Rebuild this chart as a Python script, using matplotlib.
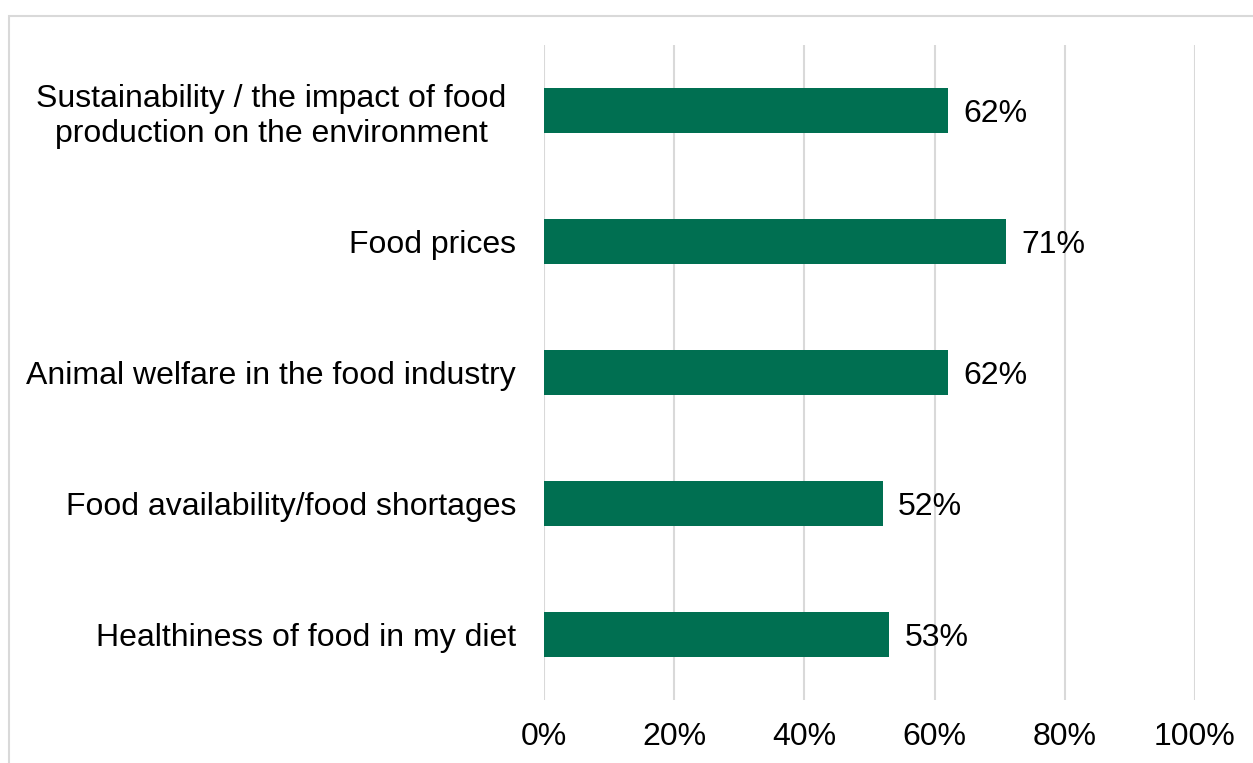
import matplotlib.pyplot as plt
import matplotlib.transforms as mtransforms
from matplotlib.patches import Rectangle

# Share of respondents concerned about each food issue
issues = [
    "Sustainability / the impact of food\nproduction on the environment",
    "Food prices",
    "Animal welfare in the food industry",
    "Food availability/food shortages",
    "Healthiness of food in my diet",
]
shares = [62, 71, 62, 52, 53]
ticks = [0, 20, 40, 60, 80, 100]
tick_labels = ["0%", "20%", "40%", "60%", "80%", "100%"]

plt.rcParams['font.family'] = ['Liberation Sans', 'DejaVu Sans']
FS = 23

W, H = 1253, 763
fig = plt.figure(figsize=(W / 100, H / 100), dpi=100)
ax = fig.add_axes([544 / W, 63 / H, 651 / W, 655 / H])

ypos = list(range(len(issues)))[::-1]
ax.barh(ypos, shares, height=0.35, color="#006f51", zorder=3)

for y, v in zip(ypos, shares):
    ax.annotate(f"{v}%", (v, y), xytext=(11, 0), textcoords="offset points",
                va="center_baseline", ha="left", fontsize=FS, color="black")

ax.set_xlim(0, 100)
ax.set_ylim(-0.5, len(issues) - 0.5)
ax.set_xticks(ticks)
ax.set_xticklabels(tick_labels, fontsize=FS)
ax.set_yticks(ypos)
ax.set_yticklabels(issues, fontsize=FS, linespacing=1.2)
for lbl in ax.get_yticklabels():
    lbl.set_multialignment("center")
ax.tick_params(axis="x", length=0, pad=16)
ax.tick_params(axis="y", length=0, pad=20)

# the wrapped label sits a little further left than the single-line ones
first = ax.get_yticklabels()[0]
first.set_transform(first.get_transform() +
                    mtransforms.ScaledTranslation(-10 / 100, 0, fig.dpi_scale_trans))

ax.grid(axis="x", color="#d9d9d9", linewidth=1.5, zorder=0)
for s in ax.spines.values():
    s.set_visible(False)

# Light frame around the chart, running off the right and bottom edges
fig.patches.append(Rectangle((9 / W, -0.05), 1.1, (H - 16) / H + 0.05,
                             transform=fig.transFigure, fill=False,
                             edgecolor="#d9d9d9", linewidth=1.5))

fig.savefig("out.png", dpi=100)
